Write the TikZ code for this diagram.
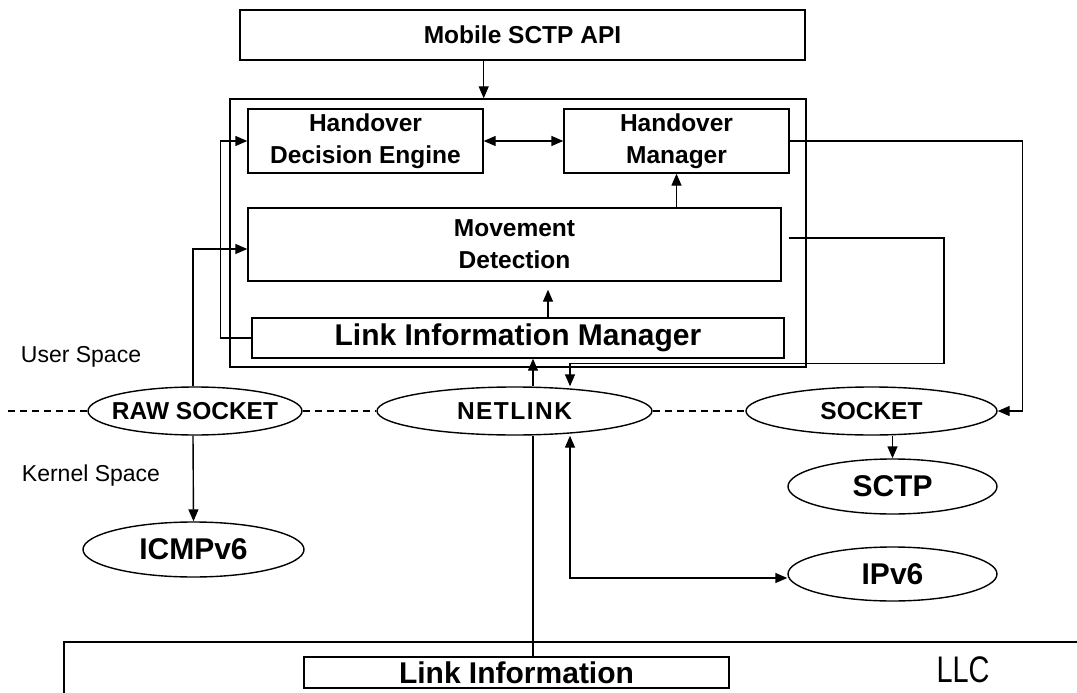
\documentclass[tikz,border=0pt]{standalone}
\usepackage{fontspec}
\setmainfont{Liberation Sans}
\usepackage{graphicx}
\usetikzlibrary{shapes.geometric,arrows.meta,calc}
\begin{document}
\begin{tikzpicture}[x=1pt,y=-1pt,
  box/.style={draw, line width=1.4pt, inner sep=0pt, align=center,
    font=\bfseries\fontsize{24.5}{32}\selectfont},
  bigbox/.style={box, font=\bfseries\fontsize{30}{36}\selectfont},
  oval/.style={draw, ellipse, line width=1.4pt, inner sep=0pt,
    font=\bfseries\fontsize{24.5}{28}\selectfont},
  bigoval/.style={oval, font=\bfseries\fontsize{30}{34}\selectfont},
  conn/.style={line width=1.4pt},
  arr/.style={conn, -{Triangle[length=12pt,width=10pt]}},
  darr/.style={conn, {Triangle[length=12pt,width=10pt]}-{Triangle[length=12pt,width=10pt]}},
  dashline/.style={line width=1.4pt, dash pattern=on 7pt off 5pt},
  plain/.style={font=\fontsize{23}{28}\selectfont, inner sep=0pt}
]
\useasboundingbox (0,0) rectangle (1077,693);

% boxes
\node[box, minimum width=565pt, minimum height=50pt] (api) at (522.5,35) {Mobile SCTP API};
\node[draw, line width=1.4pt, minimum width=576pt, minimum height=268pt, inner sep=0pt] (outer) at (518,233) {};
\node[box, minimum width=235pt, minimum height=64pt] (hde) at (365.5,141) {Handover\\Decision Engine};
\node[box, minimum width=225pt, minimum height=64pt] (hm) at (676.5,141) {Handover\\Manager};
\node[box, minimum width=533pt, minimum height=73pt] (md) at (514.5,244.5) {Movement\\Detection};
\node[bigbox, minimum width=532pt, minimum height=40pt] (lim) at (518,338) {Link Information Manager};

% ellipses
\node[oval, minimum width=214pt, minimum height=48pt] (raw) at (195,411) {\makebox[0pt]{RAW SOCKET}};
\node[oval, minimum width=275pt, minimum height=48pt] (netlink) at (514.5,411) {\makebox[0pt]{\addfontfeature{LetterSpace=6}NETLINK}};
\node[oval, minimum width=251pt, minimum height=48pt] (socket) at (871.5,411) {\makebox[0pt]{SOCKET}};
\node[bigoval, minimum width=221pt, minimum height=55pt] (icmp) at (193.5,549.5) {\makebox[0pt]{ICMPv6}};
\node[bigoval, minimum width=209pt, minimum height=55pt] (sctp) at (892.5,486.5) {\makebox[0pt]{SCTP}};
\node[bigoval, minimum width=209pt, minimum height=54pt] (ipv6) at (892.5,574) {\makebox[0pt]{IPv6}};

% LLC area
\coordinate (llcbl) at (64,693);
\coordinate (llctl) at (64,642);
\coordinate (llctr) at (1077,642);
\draw[conn] (llcbl) -- (llctl) -- (llctr);
\node[bigbox, minimum width=425pt, minimum height=31pt] (linkinfo) at (516.5,672.5) {Link Information};
\node[plain, font=\fontsize{37}{40}\selectfont] (llc) at (963,670) {\scalebox{0.78}[1]{LLC}};

% side labels
\node[plain] (us) at (81,357) {User Space};
\node[plain] (ks) at (91,476) {Kernel Space};

% dashed boundary
\coordinate (dl) at (8,411);
\draw[dashline] (dl) -- (raw.west);
\draw[dashline] (raw.east) -- (netlink.west);
\draw[dashline] (netlink.east) -- (socket.west);

% connectors
\draw[arr] (api.south -| hde.east) -- (outer.north -| hde.east);
\draw[darr] (hde.east) -- (hm.west);
\draw[arr] (hm.south |- md.north) -- (hm.south);
\draw[arr, shorten >=8pt] ($(lim.north)+(30,0)$) -- ($(md.south)+(33.5,0)$);
\draw[arr] (lim.west) -- ++(-31,0) |- (hde.west);
\draw[arr] ([xshift=-2pt]raw.north) |- ([yshift=-4.5pt]md.west);
\draw[arr] ([xshift=-2pt]raw.south) -- (icmp.north);
\draw[arr] ($(netlink.north)+(18.5,0)$) -- ($(lim.south)+(15,0)$);
\draw[conn] ($(linkinfo.north)+(16.5,0)$) -- ($(netlink.south)+(18.5,0)$);
\draw[arr] (hm.east) -| ($(socket.east)+(25,0)$) -- (socket.east);
\draw[arr] ([xshift=7pt,yshift=6.5pt]md.east) -| ($(netlink.north)+(429.5,-23)$) -| ($(netlink.north)+(55.5,0)$);
\draw[arr] (sctp.north |- socket.south) -- (sctp.north);
\draw[darr] ($(netlink.south)+(55.5,0)$) |- ([yshift=-4pt]ipv6.west);
\end{tikzpicture}
\end{document}
